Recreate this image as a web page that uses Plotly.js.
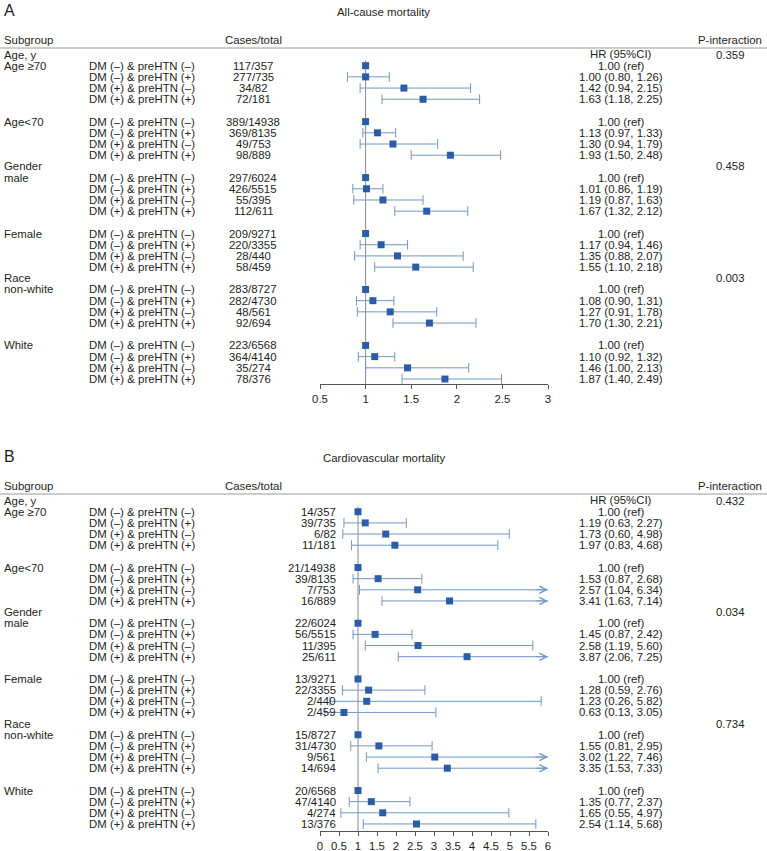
<!DOCTYPE html>
<html>
<head>
<meta charset="utf-8">
<script src="https://cdn.plot.ly/plotly-3.0.1.min.js"></script>
<style>html,body{margin:0;padding:0;background:#fff}#chart{width:767px;height:851px}</style>
</head>
<body>
<div id="chart"></div>
<script>
// rows of each subgroup block
var comparisons = ['DM (\u2013) & preHTN (\u2013)', 'DM (\u2013) & preHTN (+)', 'DM (+) & preHTN (\u2013)', 'DM (+) & preHTN (+)'];
var subgroups = ['Age \u226570', 'Age<70', 'male', 'Female', 'non-white', 'White'];
var headings = ['Age, y', 'Gender', 'Race'];

// A: all-cause mortality
var casesA = ['117/357', '277/735', '34/82', '72/181',
              '389/14938', '369/8135', '49/753', '98/889',
              '297/6024', '426/5515', '55/395', '112/611',
              '209/9271', '220/3355', '28/440', '58/459',
              '283/8727', '282/4730', '48/561', '92/694',
              '223/6568', '364/4140', '35/274', '78/376'];
var hrA = [1, 1.00, 1.42, 1.63,  1, 1.13, 1.30, 1.93,  1, 1.01, 1.19, 1.67,
           1, 1.17, 1.35, 1.55,  1, 1.08, 1.27, 1.70,  1, 1.10, 1.46, 1.87];
var loA = [null, 0.80, 0.94, 1.18,  null, 0.97, 0.94, 1.50,  null, 0.86, 0.87, 1.32,
           null, 0.94, 0.88, 1.10,  null, 0.90, 0.91, 1.30,  null, 0.92, 1.00, 1.40];
var hiA = [null, 1.26, 2.15, 2.25,  null, 1.33, 1.79, 2.48,  null, 1.19, 1.63, 2.12,
           null, 1.46, 2.07, 2.18,  null, 1.31, 1.78, 2.21,  null, 1.32, 2.13, 2.49];
var pA = ['0.359', '0.458', '0.003'];

// B: cardiovascular mortality
var casesB = ['14/357', '39/735', '6/82', '11/181',
              '21/14938', '39/8135', '7/753', '16/889',
              '22/6024', '56/5515', '11/395', '25/611',
              '13/9271', '22/3355', '2/440', '2/459',
              '15/8727', '31/4730', '9/561', '14/694',
              '20/6568', '47/4140', '4/274', '13/376'];
var hrB = [1, 1.19, 1.73, 1.97,  1, 1.53, 2.57, 3.41,  1, 1.45, 2.58, 3.87,
           1, 1.28, 1.23, 0.63,  1, 1.55, 3.02, 3.35,  1, 1.35, 1.65, 2.54];
var loB = [null, 0.63, 0.60, 0.83,  null, 0.87, 1.04, 1.63,  null, 0.87, 1.19, 2.06,
           null, 0.59, 0.26, 0.13,  null, 0.81, 1.22, 1.53,  null, 0.77, 0.55, 1.14];
var hiB = [null, 2.27, 4.98, 4.68,  null, 2.68, 6.34, 7.14,  null, 2.42, 5.60, 7.25,
           null, 2.76, 5.82, 3.05,  null, 2.95, 7.46, 7.33,  null, 2.37, 4.97, 5.68];
var pB = ['0.432', '0.034', '0.734'];

var W = 767, H = 851;
var FONT = 'Liberation Sans, Arial, sans-serif';
var FS = 11.4;
var TXT = '#231f20';
var SQ = '#2b5ca8', CIC = '#7097c9';

function py(p) { return 1 - p / H; }
function px(p) { return p / W; }

var panels = [
  {xa: 'x', ya: 'y', letter: 'A', title: 'All-cause mortality', off: 0,
   cases: casesA, hr: hrA, lo: loA, hi: hiA, p: pA, xmin: 0.5, xmax: 3,
   casesX: 253, casesAnchor: 'center', rowTop: 54.5, rowH: 11.19, axisY: 384},
  {xa: 'x2', ya: 'y2', letter: 'B', title: 'Cardiovascular mortality', off: 446,
   cases: casesB, hr: hrB, lo: loB, hi: hiB, p: pB, xmin: 0, xmax: 6,
   casesX: 338, casesAnchor: 'right', rowTop: 500.6, rowH: 11.15, axisY: 831}
];

var data = [], annotations = [], shapes = [];

function txt(text, x, y, xanchor, yref, size, yanchor) {
  annotations.push({text: text, x: x, y: y, xref: 'paper', yref: yref || 'paper',
    xanchor: xanchor, yanchor: yanchor || 'middle', showarrow: false,
    font: {family: FONT, size: size || FS, color: TXT}});
}

var layout = {
  width: W, height: H,
  margin: {l: 0, r: 0, t: 0, b: 0},
  paper_bgcolor: '#fff', plot_bgcolor: '#fff',
  showlegend: false,
  font: {family: FONT, size: FS, color: TXT}
};

panels.forEach(function (pn, n) {
  var o = pn.off;
  var rowOf = function (i) { return 1 + 5 * Math.floor(i / 4) + (i % 4); };

  // header texts
  txt(pn.letter, px(2), py(o), 'left', 'paper', 16, 'top');
  txt(pn.title, 0.5, py(o + 12), 'center');
  txt('Subgroup', px(2), py(o + 40), 'left');
  txt('Cases/total', px(253), py(o + 40), 'center');
  txt('P-interaction', px(764), py(o + 40), 'right');
  shapes.push({type: 'line', xref: 'paper', yref: 'paper', x0: 0, x1: 1,
    y0: py(o + 48), y1: py(o + 48), line: {color: '#9a9a9a', width: 1}});

  headings.forEach(function (h, j) {
    txt(h, px(2), 10 * j, 'left', pn.ya);
    txt(pn.p[j], px(730), 10 * j, 'center', pn.ya);
  });
  txt('HR (95%CI)', px(621), -0.05, 'center', pn.ya);
  subgroups.forEach(function (s, k) { txt(s, px(2), 1 + 5 * k, 'left', pn.ya); });

  var lx = [], ly = [], cx = [], cy = [], sx = [], sy = [];
  pn.hr.forEach(function (v, i) {
    var r = rowOf(i);
    txt(comparisons[i % 4], px(87), r, 'left', pn.ya);
    txt(pn.cases[i], px(pn.casesX), r, pn.casesAnchor, pn.ya);
    var hrText = pn.lo[i] === null ? '1.00 (ref)' :
      v.toFixed(2) + ' (' + pn.lo[i].toFixed(2) + ', ' + pn.hi[i].toFixed(2) + ')';
    txt(hrText, px(621), r, 'center', pn.ya);
    sx.push(v); sy.push(r);
    if (pn.lo[i] !== null) {
      lx.push(pn.lo[i], Math.min(pn.hi[i], pn.xmax), null);
      ly.push(r, r, null);
      cx.push(pn.lo[i]); cy.push(r);
      if (pn.hi[i] <= pn.xmax) { cx.push(pn.hi[i]); cy.push(r); }
      else {
        annotations.push({x: pn.xmax, y: r, xref: pn.xa, yref: pn.ya, text: '',
          showarrow: true, ax: -14, ay: 0, arrowhead: 5, arrowsize: 1.4,
          arrowwidth: 1, arrowcolor: CIC, standoff: 0});
      }
    }
  });

  data.push({type: 'scatter', mode: 'lines', x: lx, y: ly, xaxis: pn.xa, yaxis: pn.ya,
    line: {color: CIC, width: 1}, hoverinfo: 'skip'});
  data.push({type: 'scatter', mode: 'markers', x: cx, y: cy, xaxis: pn.xa, yaxis: pn.ya,
    cliponaxis: false,
    marker: {symbol: 'line-ns-open', size: 7, color: CIC, line: {color: CIC, width: 1}},
    hoverinfo: 'skip'});
  data.push({type: 'scatter', mode: 'markers', x: sx, y: sy, xaxis: pn.xa, yaxis: pn.ya,
    cliponaxis: false, marker: {symbol: 'square', size: 7, color: SQ}});

  var bottom = (pn.axisY - pn.rowTop) / pn.rowH;
  var top = (o + 48 - pn.rowTop) / pn.rowH;
  shapes.push({type: 'line', xref: pn.xa, yref: pn.ya, x0: 1, x1: 1, y0: 0.55, y1: bottom,
    line: {color: '#8a8a8a', width: 1}, layer: 'below'});

  var sfx = n === 0 ? '' : '2';
  layout['xaxis' + sfx] = {
    domain: [px(320), px(548)], anchor: pn.ya, range: [pn.xmin, pn.xmax],
    tick0: pn.xmin, dtick: 0.5, tickangle: 0,
    showline: true, linecolor: '#555', linewidth: 1,
    ticks: 'outside', ticklen: 4, tickcolor: '#555',
    showgrid: false, zeroline: false, fixedrange: true,
    tickfont: {family: FONT, size: FS, color: TXT}
  };
  layout['yaxis' + sfx] = {
    domain: [py(pn.axisY), py(o + 48)], anchor: pn.xa, range: [bottom, top],
    visible: false, fixedrange: true
  };
});

layout.annotations = annotations;
layout.shapes = shapes;

Plotly.newPlot('chart', data, layout, {displayModeBar: false, staticPlot: true});
</script>
</body>
</html>
